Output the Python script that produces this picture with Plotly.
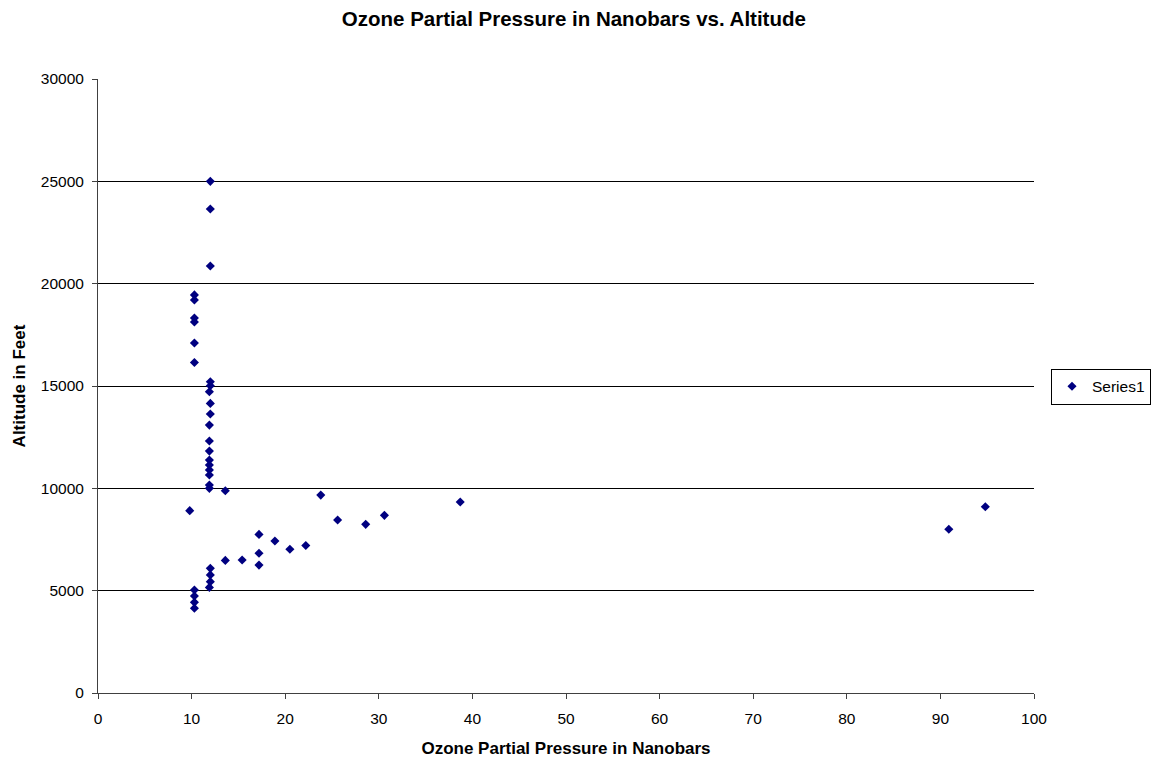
import plotly.graph_objects as go

ozone_nb = [12.0, 12.0, 12.0, 10.3, 10.3, 10.3, 10.3, 10.3, 10.3,
            12.0, 12.0, 11.9, 12.0, 12.0, 11.9, 11.9, 11.9, 11.9, 11.9, 11.9, 11.9, 11.9, 11.9,
            13.6, 9.8, 17.2, 18.9, 20.5, 17.2, 17.2, 13.6, 15.4,
            12.0, 12.0, 12.0, 11.9, 10.3, 10.3, 10.3, 10.3,
            22.2, 23.8, 25.6, 28.6, 30.6, 38.7, 90.9, 94.8]
altitude_ft = [25000, 23650, 20860, 19450, 19200, 18320, 18130, 17100, 16150,
               15210, 15010, 14720, 14150, 13630, 13090, 12310, 11820, 11380, 11140, 10900, 10650, 10160, 10000,
               9880, 8910, 7750, 7430, 7020, 6830, 6250, 6480, 6500,
               6090, 5770, 5440, 5160, 5030, 4740, 4430, 4140,
               7210, 9670, 8450, 8240, 8680, 9330, 8000, 9100]

fig = go.Figure()
fig.add_trace(go.Scatter(
    x=ozone_nb, y=altitude_ft, mode="markers", name="Series1",
    marker=dict(symbol="diamond", size=7, color="#000080", line=dict(width=0)),
))

fig.update_layout(
    width=1157, height=763,
    paper_bgcolor="white", plot_bgcolor="white",
    margin=dict(l=98, r=123, t=79, b=70, autoexpand=False),
    font=dict(family="Liberation Sans, Arial, sans-serif", size=15.5, color="black"),
    title=dict(text="<b>Ozone Partial Pressure in Nanobars vs. Altitude</b>",
               x=0.496, xanchor="center", y=0.975, yanchor="middle",
               font=dict(size=20.5)),
    showlegend=True,
    legend=dict(x=1.125, y=0.499, xanchor="right", yanchor="middle",
                bordercolor="black", borderwidth=1, bgcolor="white",
                font=dict(size=15.5), itemsizing="trace", itemwidth=30,
                tracegroupgap=0),
    xaxis=dict(range=[0, 100], dtick=10, tick0=0, showgrid=False, zeroline=False,
               showline=True, linecolor="#404040", linewidth=1,
               ticks="outside", ticklen=5, tickcolor="#404040", ticklabelstandoff=6,
               title=dict(text="<b>Ozone Partial Pressure in Nanobars</b>", font=dict(size=17), standoff=16)),
    yaxis=dict(range=[0, 30000], dtick=5000, tick0=0, tickformat="d",
               showgrid=True, gridcolor="black", gridwidth=1,
               zeroline=False, showline=True, linecolor="#404040", linewidth=1,
               ticks="outside", ticklen=5, tickcolor="#404040", ticklabelstandoff=5,
               title=dict(text="<b>Altitude in Feet</b>", font=dict(size=17), standoff=10)),
)

fig.write_html("out.html", config={"displayModeBar": False},
               post_script="document.body.style.margin='0';document.body.style.overflow='hidden';")
